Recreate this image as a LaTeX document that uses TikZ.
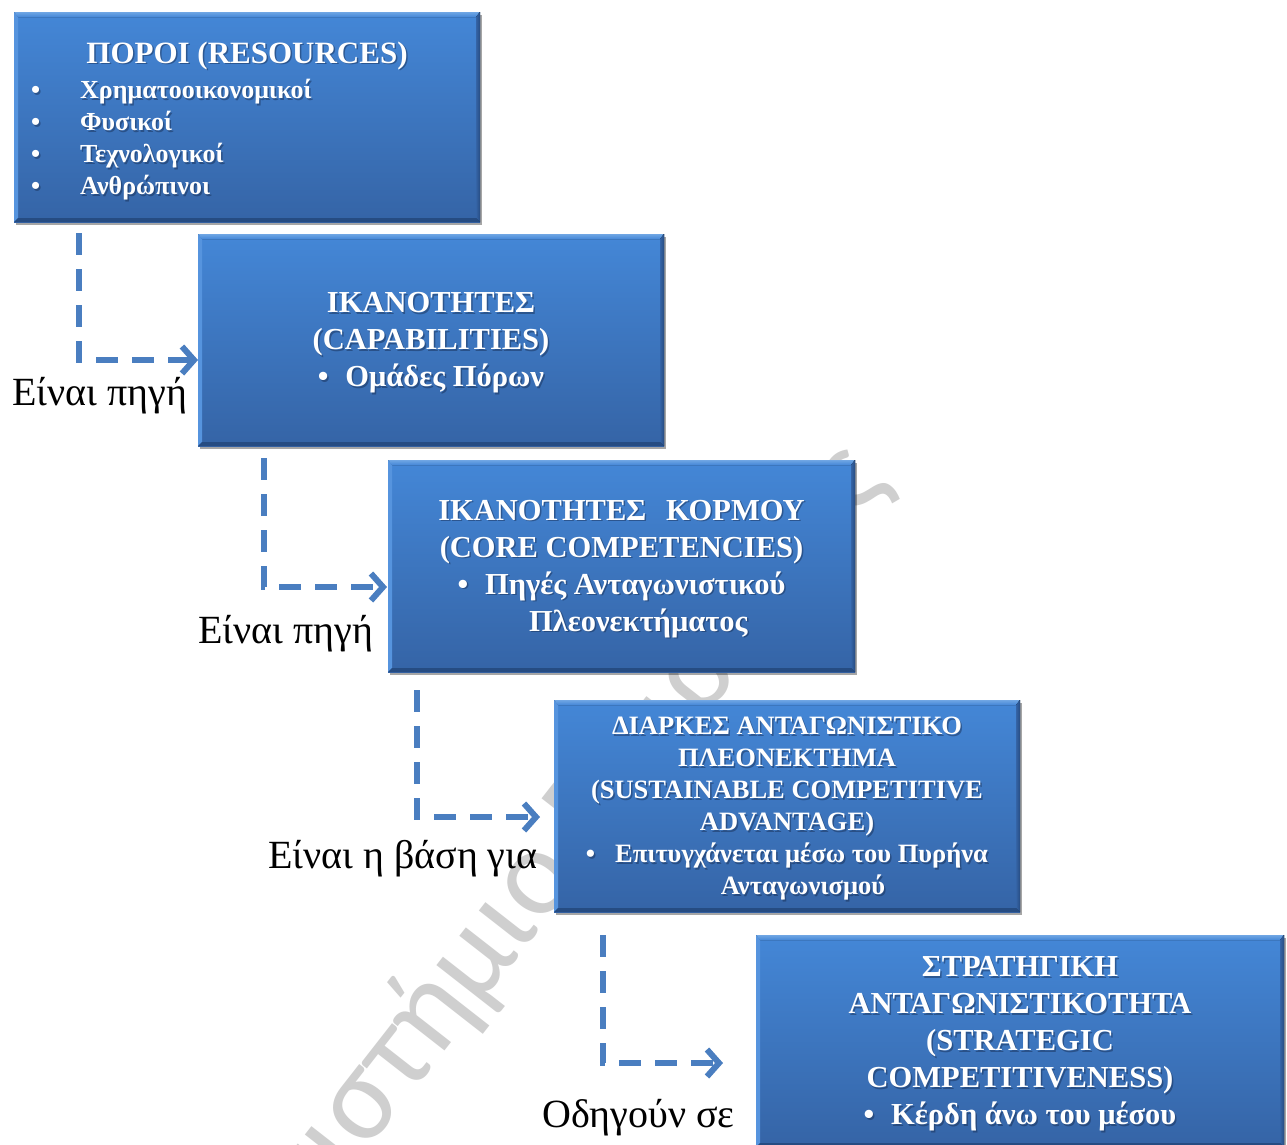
\documentclass[tikz,border=0pt]{standalone}
\usepackage{fontspec}
\setmainfont{Liberation Serif}
\newfontfamily\wmfont{Carlito}
\usetikzlibrary{arrows.meta,calc,shadows}

\definecolor{boxtop}{RGB}{68,135,215}
\definecolor{boxbot}{RGB}{53,100,166}
\definecolor{bevlight}{RGB}{112,166,228}
\definecolor{bevside}{RGB}{86,148,222}
\definecolor{bevdark}{RGB}{38,76,130}
\definecolor{flowblue}{RGB}{74,126,192}
\definecolor{txtshadow}{RGB}{20,40,75}

% bevelled edges around a panel node
\newcommand\bevel[1]{%
  \fill[top color=bevlight,bottom color=boxtop]
    (#1.north west) -- (#1.north east) -- ([xshift=-4pt,yshift=-5pt]#1.north east)
    -- ([xshift=4pt,yshift=-5pt]#1.north west) -- cycle;
  \fill[bevside]
    (#1.north west) -- ([xshift=4pt,yshift=-5pt]#1.north west)
    -- ([xshift=4pt,yshift=4pt]#1.south west) -- (#1.south west) -- cycle;
  \fill[left color=boxbot,right color=bevdark]
    (#1.north east) -- ([xshift=-4pt,yshift=-5pt]#1.north east)
    -- ([xshift=-4pt,yshift=4pt]#1.south east) -- (#1.south east) -- cycle;
  \fill[bevdark]
    (#1.south west) -- ([xshift=4pt,yshift=4pt]#1.south west)
    -- ([xshift=-4pt,yshift=4pt]#1.south east) -- (#1.south east) -- cycle;
}

% panel contents
\newcommand\txtA{ΠΟΡΟΙ (RESOURCES)}
\newcommand\txtAlist{\makebox[49pt][l]{•}Χρηματοοικονομικοί\\
   \makebox[49pt][l]{•}Φυσικοί\\
   \makebox[49pt][l]{•}Τεχνολογικοί\\
   \makebox[49pt][l]{•}Ανθρώπινοι}
\newcommand\txtB{ΙΚΑΝΟΤΗΤΕΣ\\(CAPABILITIES)\\•\hspace{0.55em}Ομάδες Πόρων}
\newcommand\txtC{ΙΚΑΝΟΤΗΤΕΣ\hspace{0.4em} ΚΟΡΜΟΥ\\(CORE COMPETENCIES)\\
   •\hspace{0.55em}Πηγές Ανταγωνιστικού\\\hspace*{1.1em}Πλεονεκτήματος}
\newcommand\txtD{ΔΙΑΡΚΕΣ ΑΝΤΑΓΩΝΙΣΤΙΚΟ\\ΠΛΕΟΝΕΚΤΗΜΑ\\(SUSTAINABLE COMPETITIVE\\ADVANTAGE)\\
   •\hspace{0.75em}Επιτυγχάνεται μέσω του Πυρήνα\\\hspace*{1.2em}Ανταγωνισμού}
\newcommand\txtE{ΣΤΡΑΤΗΓΙΚΗ\\ΑΝΤΑΓΩΝΙΣΤΙΚΟΤΗΤΑ\\(STRATEGIC\\COMPETITIVENESS)\\
   •\hspace{0.55em}Κέρδη άνω του μέσου}

\tikzset{
  panel/.style={rectangle, inner sep=0pt, outer sep=0pt, draw=none,
    top color=boxtop, bottom color=boxbot,
    drop shadow={shadow xshift=2pt, shadow yshift=-3pt, fill=black, opacity=0.35}},
  paneltext/.style args={#1/#2}{text=white, align=center, inner sep=0pt,
    font=\bfseries\fontsize{#1}{#2}\selectfont},
  listtext/.style={text=white, align=left, inner sep=0pt, anchor=west,
    font=\bfseries\fontsize{26}{32}\selectfont},
  tshadow/.style={text=txtshadow, opacity=0.45},
  flow/.style={draw=flowblue, line width=6pt, dash pattern=on 22pt off 14pt,
    -{Straight Barb[length=12pt,width=27pt]}},
  lbl/.style={inner sep=0pt, anchor=base west, font=\fontsize{40}{44}\selectfont}
}

\begin{document}
\begin{tikzpicture}[x=1pt,y=-1pt]
\useasboundingbox (0,0) rectangle (1287,1144);
\clip (0,0) rectangle (1287,1144);
\fill[white] (0,0) rectangle (1287,1144);

% faint watermark behind everything; the node sits between its two words
\node[rotate=52, text=black!19, inner sep=0pt, anchor=base,
      font=\wmfont\fontsize{124}{124}\selectfont] (wm) at (582,876)
      {\llap{Πανεπιστήμιο}\rlap{\ Πειραιώς}};

% panels
\node[panel, minimum width=466pt, minimum height=210pt] (b1) at (247,117) {};
\node[panel, minimum width=466pt, minimum height=212pt] (b2) at (431,340) {};
\node[panel, minimum width=467pt, minimum height=212pt] (b3) at (621.5,566) {};
\node[panel, minimum width=466pt, minimum height=212pt] (b4) at (787,806) {};
\node[panel, minimum width=528pt, minimum height=212pt] (b5) at (1020,1041) {};
\bevel{b1}\bevel{b2}\bevel{b3}\bevel{b4}\bevel{b5}

% panel texts (soft dark copy underneath, white on top)
\node[paneltext=31/37, tshadow, anchor=base] (t1s) at (248.5,64.5) {\txtA};
\node[paneltext=31/37, anchor=base] (t1) at (247,63) {\txtA};
\node[listtext, tshadow] (t1ls) at (32.5,141.5) {\txtAlist};
\node[listtext] (t1list) at (31,140) {\txtAlist};
\node[paneltext=30.5/37, tshadow] (t2s) at ([xshift=1.5pt,yshift=-4.5pt]b2.center) {\txtB};
\node[paneltext=30.5/37] (t2) at ([yshift=-3pt]b2.center) {\txtB};
\node[paneltext=30.5/37, tshadow] (t3s) at ([xshift=1.5pt,yshift=-4.5pt]b3.center) {\txtC};
\node[paneltext=30.5/37] (t3) at ([yshift=-3pt]b3.center) {\txtC};
\node[paneltext=26.5/32, tshadow] (t4s) at ([xshift=1.5pt,yshift=-4.5pt]b4.center) {\txtD};
\node[paneltext=26.5/32] (t4) at ([yshift=-3pt]b4.center) {\txtD};
\node[paneltext=30.5/37, tshadow] (t5s) at ([xshift=1.5pt,yshift=-4.5pt]b5.center) {\txtE};
\node[paneltext=30.5/37] (t5) at ([yshift=-3pt]b5.center) {\txtE};

% connectors
\draw[flow] ([xshift=65pt,yshift=-11pt]b1.south west) |- ([yshift=-20pt]b2.west);
\draw[flow] ([xshift=66pt,yshift=-12pt]b2.south west) |- ([xshift=-1pt,yshift=-21pt]b3.west);
\draw[flow] ([xshift=29pt,yshift=-18pt]b3.south west) |- ([xshift=-14pt,yshift=-11pt]b4.west);
\draw[flow] ([xshift=49pt,yshift=-23pt]b4.south west) |- ([xshift=-33pt,yshift=-22pt]b5.west);

% connector labels
\node[lbl] (l1) at (12,405) {Είναι πηγή};
\node[lbl] (l2) at (198,643) {Είναι πηγή};
\node[lbl] (l3) at (268,868) {Είναι η βάση για};
\node[lbl] (l4) at (542,1127) {Οδηγούν σε};
\end{tikzpicture}
\end{document}
